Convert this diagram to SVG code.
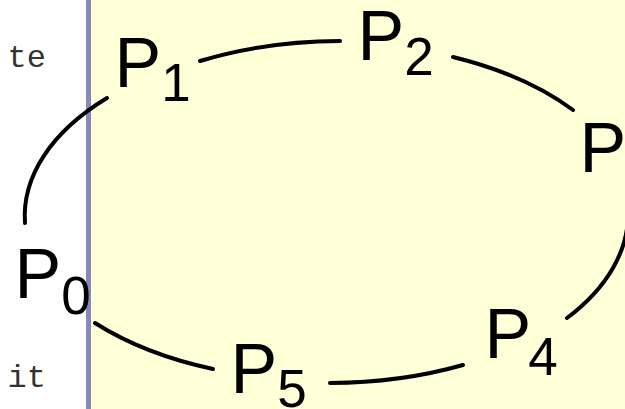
<svg xmlns="http://www.w3.org/2000/svg" width="625" height="409" viewBox="0 0 625 409">
<style>
.p{font-family:"Liberation Sans",Arial,sans-serif;font-size:70px;fill:#000}
.s{font-size:53px}
.m{font-family:"Liberation Mono","Courier New",monospace;font-size:32px;fill:#333}
.c{fill:none;stroke:#000;stroke-width:4;stroke-linecap:round}
</style>
<rect x="0" y="0" width="625" height="409" fill="#ffffff"/>
<rect x="89" y="0" width="536" height="409" fill="#ffffd8"/>
<line x1="88.5" y1="0" x2="88.5" y2="409" stroke="#8a88bb" stroke-width="5"/>
<text class="m" x="46" y="67" text-anchor="end">te</text>
<text class="m" x="46" y="387" text-anchor="end">it</text>
<g id="connectors">
<path class="c" d="M25,223 A302,172 0 0 1 107,98"/>
<path class="c" d="M200,61 A302,172 0 0 1 340,41"/>
<path class="c" d="M453,57 A302,172 0 0 1 573,110"/>
<path class="c" d="M628,212 A302,172 0 0 1 567,318"/>
<path class="c" d="M463,365 A302,172 0 0 1 330,383"/>
<path class="c" d="M213,369 A302,172 0 0 1 95,323"/>
</g>
<g id="P0"><text class="p" x="14.5" y="298">P<tspan class="s" dy="16">0</tspan></text></g>
<g id="P1"><text class="p" x="114.5" y="87">P<tspan class="s" dy="14">1</tspan></text></g>
<g id="P2"><text class="p" x="357.5" y="60">P<tspan class="s" dy="15">2</tspan></text></g>
<g id="P3"><text class="p" x="579.5" y="172">P</text></g>
<g id="P4"><text class="p" x="484.5" y="358">P<tspan class="s" dx="-3" dy="17">4</tspan></text></g>
<g id="P5"><text class="p" x="230.5" y="393">P<tspan class="s" dy="14">5</tspan></text></g>
</svg>
